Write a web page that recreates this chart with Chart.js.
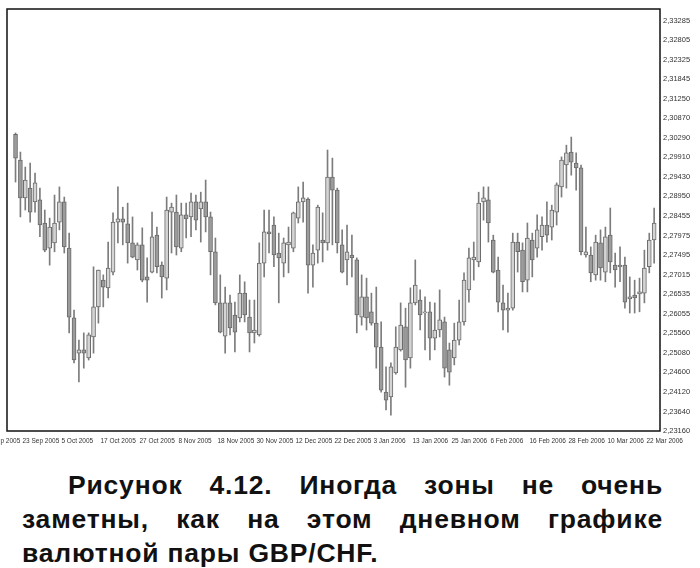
<!DOCTYPE html>
<html>
<head>
<meta charset="utf-8">
<script src="https://cdn.jsdelivr.net/npm/chart.js@4.4.0/dist/chart.umd.min.js"></script>
<style>
  body { margin: 0; background: #fff; width: 700px; height: 568px; overflow: hidden; position: relative; }
  #chart { position: absolute; left: 0; top: 0; }
  .cap { position: absolute; left: 22px; width: 641px; font: bold 26.5px "Liberation Sans", Arial, sans-serif;
         line-height: 34px; color: #111; white-space: nowrap; letter-spacing: 0.8px; }
  .just { text-align: justify; text-align-last: justify; }
</style>
</head>
<body>
<canvas id="chart" width="700" height="450"></canvas>
<div class="cap just" style="top:468px; padding-left:46px; width:595px">Рисунок 4.12. Иногда зоны не очень</div>
<div class="cap just" style="top:502px">заметны, как на этом дневном графике</div>
<div class="cap" style="top:536px">валютной пары GBP/CHF.</div>

<script>
// GBP/CHF дневные свечи, 22 Sep 2005 - 24 Mar 2006
const opens = [
  2.3048, 2.2984, 2.2891, 2.2915, 2.2881, 2.2886, 2.2829, 2.2767, 2.2780, 2.2831,
  2.2881, 2.2767, 2.2595, 2.2508, 2.2516, 2.2496, 2.2548, 2.2622, 2.2688, 2.2669,
  2.2708, 2.2831, 2.2839, 2.2827, 2.2780, 2.2738, 2.2775, 2.2696, 2.2708, 2.2799,
  2.2725, 2.2693, 2.2856, 2.2856, 2.2767, 2.2849, 2.2844, 2.2881, 2.2864, 2.2881,
  2.2844, 2.2758, 2.2632, 2.2550, 2.2632, 2.2602, 2.2595, 2.2656, 2.2597, 2.2558,
  2.2553, 2.2730, 2.2807, 2.2824, 2.2755, 2.2730, 2.2775, 2.2767, 2.2841, 2.2881,
  2.2888, 2.2725, 2.2762, 2.2787, 2.2780, 2.2942, 2.2910, 2.2775, 2.2738, 2.2750,
  2.2738, 2.2597, 2.2647, 2.2610, 2.2582, 2.2523, 2.2412, 2.2400, 2.2459, 2.2516,
  2.2573, 2.2496, 2.2632, 2.2639, 2.2607, 2.2610, 2.2545, 2.2565, 2.2585, 2.2516,
  2.2496, 2.2540, 2.2585, 2.2664, 2.2738, 2.2733, 2.2881, 2.2886, 2.2787, 2.2713,
  2.2632, 2.2614, 2.2619, 2.2782, 2.2762, 2.2688, 2.2787, 2.2767, 2.2795, 2.2824,
  2.2819, 2.2856, 2.2918, 2.2972, 2.3004, 2.2977, 2.2965, 2.2750, 2.2750, 2.2701,
  2.2780, 2.2708, 2.2799, 2.2725, 2.2721, 2.2725, 2.2642, 2.2651, 2.2654, 2.2656,
  2.2721, 2.2787
];
const highs = [
  2.3051, 2.3004, 2.2967, 2.2977, 2.2952, 2.2915, 2.2861, 2.2841, 2.2898, 2.2918,
  2.2893, 2.2804, 2.2614, 2.2540, 2.2558, 2.2558, 2.2721, 2.2713, 2.2701, 2.2782,
  2.2854, 2.2918, 2.2868, 2.2878, 2.2844, 2.2780, 2.2817, 2.2743, 2.2856, 2.2819,
  2.2733, 2.2893, 2.2878, 2.2898, 2.2878, 2.2878, 2.2903, 2.2898, 2.2905, 2.2935,
  2.2856, 2.2792, 2.2701, 2.2671, 2.2651, 2.2634, 2.2701, 2.2684, 2.2639, 2.2639,
  2.2780, 2.2861, 2.2861, 2.2844, 2.2804, 2.2792, 2.2819, 2.2856, 2.2918, 2.2930,
  2.2891, 2.2775, 2.2873, 2.2854, 2.3009, 2.2989, 2.2915, 2.2812, 2.2824, 2.2799,
  2.2743, 2.2701, 2.2693, 2.2656, 2.2671, 2.2585, 2.2474, 2.2484, 2.2573, 2.2632,
  2.2619, 2.2669, 2.2738, 2.2664, 2.2647, 2.2634, 2.2632, 2.2664, 2.2597, 2.2533,
  2.2582, 2.2639, 2.2706, 2.2767, 2.2782, 2.2905, 2.2918, 2.2918, 2.2799, 2.2745,
  2.2676, 2.2656, 2.2804, 2.2804, 2.2780, 2.2829, 2.2804, 2.2849, 2.2844, 2.2881,
  2.2873, 2.2928, 2.2992, 2.3021, 2.3041, 2.3002, 2.2972, 2.2819, 2.2770, 2.2799,
  2.2812, 2.2819, 2.2866, 2.2755, 2.2770, 2.2745, 2.2696, 2.2688, 2.2693, 2.2762,
  2.2804, 2.2866
];
const lows = [
  2.2930, 2.2844, 2.2861, 2.2831, 2.2856, 2.2795, 2.2758, 2.2725, 2.2758, 2.2812,
  2.2755, 2.2558, 2.2484, 2.2437, 2.2471, 2.2491, 2.2508, 2.2582, 2.2622, 2.2644,
  2.2701, 2.2780, 2.2775, 2.2730, 2.2743, 2.2713, 2.2684, 2.2634, 2.2706, 2.2706,
  2.2644, 2.2664, 2.2755, 2.2750, 2.2758, 2.2792, 2.2795, 2.2812, 2.2782, 2.2807,
  2.2701, 2.2627, 2.2558, 2.2508, 2.2553, 2.2511, 2.2585, 2.2585, 2.2511, 2.2533,
  2.2550, 2.2696, 2.2755, 2.2721, 2.2632, 2.2696, 2.2706, 2.2758, 2.2829, 2.2831,
  2.2656, 2.2671, 2.2730, 2.2733, 2.2762, 2.2775, 2.2755, 2.2706, 2.2676, 2.2696,
  2.2558, 2.2577, 2.2565, 2.2577, 2.2471, 2.2412, 2.2368, 2.2355, 2.2456, 2.2513,
  2.2424, 2.2471, 2.2627, 2.2565, 2.2516, 2.2491, 2.2516, 2.2548, 2.2449, 2.2429,
  2.2479, 2.2528, 2.2577, 2.2634, 2.2688, 2.2721, 2.2836, 2.2782, 2.2706, 2.2610,
  2.2565, 2.2560, 2.2614, 2.2708, 2.2659, 2.2659, 2.2696, 2.2745, 2.2762, 2.2782,
  2.2787, 2.2824, 2.2893, 2.2915, 2.2947, 2.2910, 2.2750, 2.2745, 2.2684, 2.2688,
  2.2688, 2.2684, 2.2706, 2.2671, 2.2684, 2.2619, 2.2607, 2.2607, 2.2610, 2.2632,
  2.2706, 2.2730
];
const closes = [
  2.2989, 2.2891, 2.2935, 2.2856, 2.2928, 2.2824, 2.2762, 2.2819, 2.2829, 2.2881,
  2.2770, 2.2597, 2.2491, 2.2516, 2.2508, 2.2553, 2.2622, 2.2713, 2.2671, 2.2718,
  2.2831, 2.2839, 2.2831, 2.2780, 2.2745, 2.2775, 2.2688, 2.2688, 2.2795, 2.2721,
  2.2696, 2.2861, 2.2868, 2.2770, 2.2849, 2.2839, 2.2881, 2.2836, 2.2881, 2.2844,
  2.2758, 2.2632, 2.2560, 2.2632, 2.2570, 2.2560, 2.2656, 2.2602, 2.2558, 2.2565,
  2.2730, 2.2807, 2.2802, 2.2750, 2.2743, 2.2780, 2.2782, 2.2854, 2.2881, 2.2891,
  2.2725, 2.2755, 2.2868, 2.2780, 2.2942, 2.2910, 2.2780, 2.2708, 2.2758, 2.2743,
  2.2602, 2.2647, 2.2595, 2.2582, 2.2523, 2.2417, 2.2392, 2.2474, 2.2523, 2.2577,
  2.2491, 2.2632, 2.2676, 2.2602, 2.2610, 2.2545, 2.2565, 2.2590, 2.2471, 2.2461,
  2.2540, 2.2585, 2.2688, 2.2743, 2.2745, 2.2878, 2.2891, 2.2829, 2.2708, 2.2634,
  2.2614, 2.2619, 2.2782, 2.2758, 2.2684, 2.2792, 2.2738, 2.2812, 2.2824, 2.2799,
  2.2861, 2.2923, 2.2984, 2.3002, 2.2979, 2.2965, 2.2758, 2.2758, 2.2706, 2.2782,
  2.2718, 2.2795, 2.2733, 2.2713, 2.2725, 2.2634, 2.2647, 2.2644, 2.2659, 2.2718,
  2.2787, 2.2829
];

// подписи оси X: номер бара и дата (первая уходит за левый край)
const xTickBars = [-7, 1, 9, 17, 25, 33, 41, 49, 57, 65, 73, 81, 89, 97, 105, 113, 121, 129];
const xTickLabels = [
  "13 Sep 2005", "23 Sep 2005", "5 Oct 2005", "17 Oct 2005", "27 Oct 2005", "8 Nov 2005",
  "18 Nov 2005", "30 Nov 2005", "12 Dec 2005", "22 Dec 2005", "3 Jan 2006", "13 Jan 2006",
  "25 Jan 2006", "6 Feb 2006", "16 Feb 2006", "28 Feb 2006", "10 Mar 2006", "22 Mar 2006"
];

// подписи оси Y сверху вниз, как на картинке
const yTickLabels = [
  "2,33285", "2,32805", "2,32325", "2,31845", "2,31250", "2,30870", "2,30290", "2,29910",
  "2,29430", "2,28950", "2,28455", "2,27975", "2,27495", "2,27015", "2,26535", "2,26055",
  "2,25560", "2,25080", "2,24600", "2,24120", "2,23640", "2,23160"
];
const yTop = 2.33285;
const yBottom = 2.23160;
const yStep = (yTop - yBottom) / (yTickLabels.length - 1);

const bodyData = opens.map((o, i) => ({ x: i, y: [o, closes[i]] }));
const wickData = lows.map((l, i) => ({ x: i, y: [l, highs[i]] }));
const bodyColors = opens.map((o, i) => (closes[i] >= o ? "#d4d4d4" : "#9c9c9c"));

// рамка вокруг области графика
const framePlugin = {
  id: "frame",
  afterDraw(chart) {
    const { ctx, chartArea: a } = chart;
    ctx.save();
    ctx.strokeStyle = "#111";
    ctx.lineWidth = 1.5;
    ctx.strokeRect(a.left, a.top, a.right - a.left, a.bottom - a.top);
    ctx.restore();
  },
};

new Chart(document.getElementById("chart").getContext("2d"), {
  type: "bar",
  data: {
    datasets: [
      {
        label: "body",
        data: bodyData,
        order: 0,
        grouped: false,
        barThickness: 4,
        minBarLength: 1,
        backgroundColor: bodyColors,
        borderColor: "#6a6a6a",
        borderWidth: 1,
        borderSkipped: false,
      },
      {
        label: "wick",
        data: wickData,
        order: 1,
        grouped: false,
        barThickness: 1,
        backgroundColor: "#7c7c7c",
      },
    ],
  },
  options: {
    responsive: false,
    animation: false,
    devicePixelRatio: 1,
    layout: { padding: { left: 7, top: 9, right: 0, bottom: 3 } },
    plugins: { legend: { display: false }, tooltip: { enabled: false } },
    scales: {
      x: {
        type: "linear",
        min: -1.75,
        max: 132.2,
        offset: false,
        grid: { display: false, drawTicks: false },
        border: { display: false },
        afterBuildTicks: (s) => { s.ticks = xTickBars.map((v) => ({ value: v })); },
        afterFit: (s) => { s.paddingLeft = 0; s.paddingRight = 0; s.height = 16; },
        ticks: {
          autoSkip: false,
          maxRotation: 0,
          minRotation: 0,
          align: "start",
          labelOffset: 2,
          padding: 6,
          color: "#333",
          font: { family: "Liberation Sans", size: 6.5 },
          callback: (v, i) => xTickLabels[i],
        },
      },
      y: {
        position: "right",
        min: yBottom,
        max: 2.33568,
        grid: { display: false, drawTicks: false },
        border: { display: false },
        afterBuildTicks: (s) => { s.ticks = yTickLabels.map((_, i) => ({ value: yTop - i * yStep })); },
        afterFit: (s) => { s.width = 40; },
        ticks: {
          autoSkip: false,
          padding: 3,
          color: "#333",
          font: { family: "Liberation Sans", size: 7.5 },
          callback: (v, i) => yTickLabels[i],
        },
      },
    },
  },
  plugins: [framePlugin],
});
</script>
</body>
</html>
